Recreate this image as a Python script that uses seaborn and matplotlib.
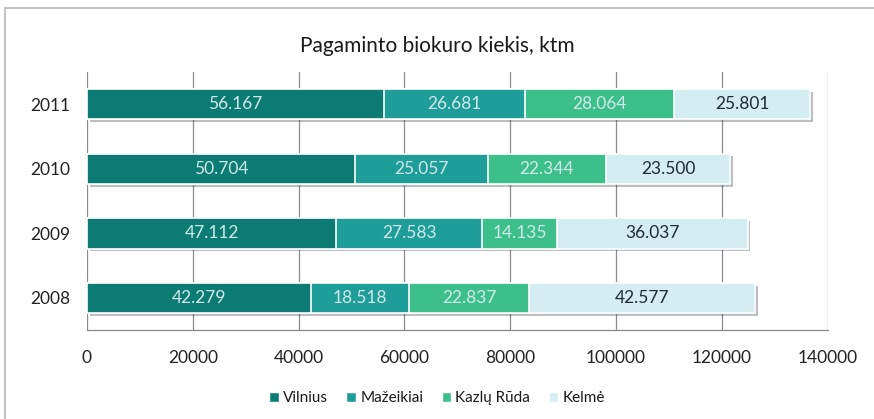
import seaborn as sns
import matplotlib.pyplot as plt
import matplotlib.patheffects as pe
from matplotlib.patches import Patch, Rectangle
import numpy as np
import pandas as pd

years = ['2011', '2010', '2009', '2008']
vilnius = [56167, 50704, 47112, 42279]
mazeikiai = [26681, 25057, 27583, 18518]
kazlu_ruda = [28064, 22344, 14135, 22837]
kelme = [25801, 23500, 36037, 42577]

series_names = ['Vilnius', 'Mažeikiai', 'Kazlų Rūda', 'Kelmė']
colors = ['#0b7b74', '#1f9d98', '#3dbf8c', '#d3edf3']
text_colors = ['#cfe9ea', '#cfe9ea', '#cfe9ea', '#1f2b33']

sns.set_theme(style='white')
plt.rcParams['font.family'] = ['Lato', 'DejaVu Sans']

df = pd.DataFrame({'year': years, 'Vilnius': vilnius, 'Mažeikiai': mazeikiai,
                   'Kazlų Rūda': kazlu_ruda, 'Kelmė': kelme})
cum = df[series_names].cumsum(axis=1)

fig = plt.figure(figsize=(8.74, 4.19), dpi=100)
ax = fig.add_axes([0.0995, 0.212, 0.8475, 0.616])

shadow = [pe.SimplePatchShadow(offset=(2, -2), alpha=0.35), pe.Normal()]

# stacked bars drawn as overlaid cumulative totals, largest first
for name, col in reversed(list(zip(series_names, colors))):
    sns.barplot(data=cum.assign(year=years), x=name, y=years, orient='y',
                color=col, width=0.47, edgecolor='white', linewidth=1.2,
                ax=ax, zorder=3, saturation=1)

for bar in ax.patches[:4]:
    bar.set_path_effects(shadow)

for j, name in enumerate(series_names):
    vals = df[name].values
    lefts = cum[name].values - vals
    for i, v in enumerate(vals):
        txt = f'{v / 1000:.3f}'
        ax.text(lefts[i] + v / 2, i, txt, ha='center', va='center',
                fontsize=12.5, color=text_colors[j], zorder=5)

ax.set_xlim(0, 140000)
ax.set_ylim(3.5, -0.5)
ax.set_xticks(np.arange(0, 140001, 20000))
ax.set_xticklabels([str(t) for t in range(0, 140001, 20000)], fontsize=12.5, color='#222222')
ax.tick_params(axis='y', labelsize=12.5, labelcolor='#222222', length=0, pad=12)
ax.tick_params(axis='x', pad=14, length=0)
ax.set_xlabel('')
ax.set_ylabel('')
ax.xaxis.grid(True, color='#8a8a8a', linewidth=0.9)
ax.set_axisbelow(True)
for s in ['top', 'right', 'left']:
    ax.spines[s].set_visible(False)
ax.spines['bottom'].set_color('#8a8a8a')
ax.spines['bottom'].set_linewidth(0.9)

fig.suptitle('Pagaminto biokuro kiekis, ktm', y=0.915, fontsize=15, color='#1a1a1a')

handles = [Patch(facecolor=c, label=n) for n, c in zip(series_names, colors)]
fig.legend(handles=handles, loc='lower center', ncol=4, frameon=False,
           bbox_to_anchor=(0.5, 0.0), fontsize=11, handlelength=0.6,
           handleheight=0.6, handletextpad=0.3, columnspacing=1.2,
           labelcolor='#1a1a1a')

fig.patches.append(Rectangle((0.006, -0.05), 1.1, 1.03, transform=fig.transFigure,
                             fill=False, edgecolor='#b8b8b8', linewidth=1.2))

fig.savefig('out.png', dpi=100)
